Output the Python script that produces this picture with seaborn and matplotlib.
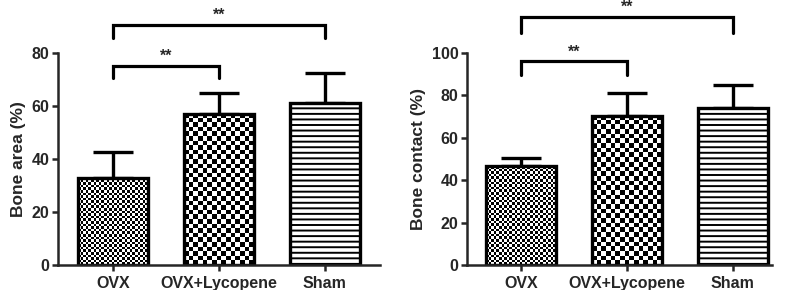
import numpy as np
import matplotlib
matplotlib.use("Agg")
import matplotlib.pyplot as plt
import seaborn as sns

groups = ["OVX", "OVX+Lycopene", "Sham"]
area_mean = [33, 57, 61]
area_sd = [9.7, 8, 11.5]
contact_mean = [46.5, 70.5, 74]
contact_sd = [4, 10.5, 11]

# significance brackets: (from, to, height, tip)
area_sig = [(0, 1, 75, 70.5), (0, 2, 90.5, 85.5)]
contact_sig = [(0, 1, 96, 89.5), (0, 2, 117, 109.5)]

sns.set_style("ticks")
plt.rcParams["font.family"] = ["Liberation Sans", "DejaVu Sans"]
plt.rcParams["font.weight"] = "bold"
plt.rcParams["hatch.linewidth"] = 1.4

fig = plt.figure(figsize=(7.88, 2.90), dpi=100)
ax1 = fig.add_axes([58/788, 25/290, 322/788, 212/290])
ax2 = fig.add_axes([467/788, 25/290, 305/788, 212/290])


def checker(ax, patch, cell):
    bb = patch.get_window_extent()
    nx = max(int(round(bb.width / cell)), 1)
    ny = max(int(round(bb.height / cell)), 1)
    arr = np.indices((ny, nx)).sum(0) % 2
    x0, y0 = patch.get_x(), patch.get_y()
    im = ax.imshow(arr, cmap="gray", extent=(x0, x0 + patch.get_width(), y0, y0 + patch.get_height()),
                   aspect="auto", interpolation="nearest", zorder=0.5)
    im.set_clip_path(patch)


def panel(ax, means, sds, sig, ymax, ystep, xlim, ylabel):
    sns.barplot(x=groups, y=means, ax=ax, color="white", edgecolor="black",
                linewidth=2.4, width=0.66, errorbar=None, saturation=1)
    ax.errorbar(range(3), means, yerr=[[0]*3, sds], fmt="none", ecolor="black",
                elinewidth=2.4, capsize=14.5, capthick=2.4, zorder=0.3)
    ax.set_xlim(*xlim)
    ax.set_ylim(0, ymax)
    ax.set_yticks(np.arange(0, ymax + 1, ystep))
    bars = ax.patches[:3]
    for b in bars:
        b.set_facecolor("none")
        b.set_zorder(2)
    checker(ax, bars[0], 2.6)
    checker(ax, bars[1], 4.6)
    bars[2].set_hatch("---")
    bars[2].set_facecolor("white")
    bars[2].set_zorder(1)
    ax.set_xlim(*xlim)
    ax.set_ylim(0, ymax)
    for a, b, h, t in sig:
        ax.plot([a, a, b, b], [t, h, h, t], color="black", lw=2.3, clip_on=False,
                solid_joinstyle="miter")
        ax.text((a + b) / 2, h + ymax * 0.01, "**", ha="center", va="bottom",
                fontsize=11.5, fontweight="bold", clip_on=False)
    sns.despine(ax=ax)
    for s in ["left", "bottom"]:
        ax.spines[s].set_linewidth(1.8)
    ax.tick_params(width=1.8, length=4, labelsize=11.5, pad=2)
    ax.tick_params(axis="x", pad=4)
    ax.set_ylabel(ylabel, fontsize=12.5, fontweight="bold", labelpad=4)
    ax.set_xlabel("")
    for lab in ax.get_xticklabels() + ax.get_yticklabels():
        lab.set_fontweight("bold")


panel(ax1, area_mean, area_sd, area_sig, 80, 20, (-0.52, 2.52), "Bone area (%)")
panel(ax2, contact_mean, contact_sd, contact_sig, 100, 20, (-0.51, 2.37), "Bone contact (%)")

fig.savefig("out.png", dpi=100)
